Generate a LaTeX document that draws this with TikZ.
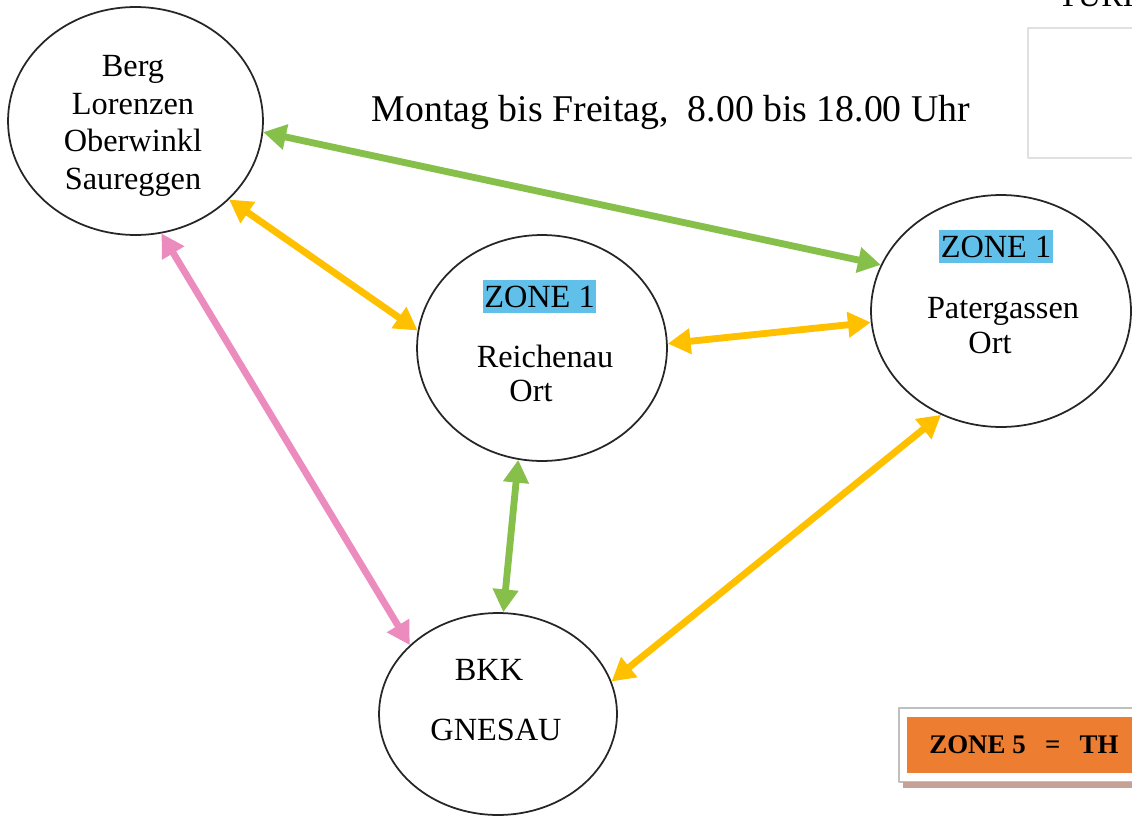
\documentclass[tikz,border=0pt]{standalone}
\usepackage{fontspec}
\setmainfont{Liberation Serif}
\usetikzlibrary{arrows.meta,shapes.geometric}
\definecolor{gruen}{RGB}{134,192,74}
\definecolor{gelb}{RGB}{255,192,0}
\definecolor{rosa}{RGB}{236,140,190}
\definecolor{hellblau}{RGB}{96,192,234}
\definecolor{zonenorange}{RGB}{237,125,49}
\definecolor{schatten}{RGB}{198,162,150}
\begin{document}
\begin{tikzpicture}[x=0.02cm, y=-0.02cm, line join=round,
	ort/.style={draw=black!85, line width=1pt, ellipse, inner sep=0pt},
	verb/.style={line width=3.9pt, {Triangle[length=13pt,width=14pt]}-{Triangle[length=13pt,width=14pt]}},
	schrift/.style={font=\fontsize{18.4}{21.5}\selectfont, align=center},
	zonebox/.style={schrift, fill=hellblau, inner xsep=1pt, inner ysep=3.4pt}]
	\useasboundingbox (0,0) rectangle (1132,821);
	% Orte
	\node[ort, minimum width=5.1cm, minimum height=4.56cm] (berg) at (135.5,121) {};
	\node[ort, minimum width=5.0cm, minimum height=4.52cm] (rei) at (542,348) {};
	\node[ort, minimum width=5.2cm, minimum height=4.64cm] (pat) at (1001,311) {};
	\node[ort, minimum width=4.76cm, minimum height=4.04cm] (bkk) at (498,714) {};
	\node[schrift] (bergtxt) at (133,126) {Berg\\Lorenzen\\Oberwinkl\\Saureggen};
	\node[zonebox] (reizone) at (539.5,296.5) {ZONE 1};
	\node[schrift, anchor=base] (reitxt) at (545,367) {Reichenau};
	\node[schrift, anchor=base] (reiort) at (531,401) {Ort};
	\node[zonebox] (patzone) at (996,246.5) {ZONE 1};
	\node[schrift, anchor=base] (pattxt) at (1003,318) {Patergassen};
	\node[schrift, anchor=base] (patort) at (990,353) {Ort};
	\node[schrift, anchor=base] (bkktxt) at (489,680) {BKK};
	\node[schrift, anchor=base] (gnesau) at (496,740) {GNESAU};
	\node[font=\fontsize{21.5}{25}\selectfont, anchor=base] (zeit) at (671,121) {Montag bis Freitag, \ 8.00 bis 18.00 Uhr};
	% Verbindungen
	\draw[verb, gruen] (berg.-5) -- (pat.159);
	\draw[verb, gelb] (berg.-40) -- (rei.172);
	\draw[verb, rosa] (berg.-77) -- (bkk.142);
	\draw[verb, gelb] (rei.2) -- (pat.185);
	\draw[verb, gruen] (rei.-102) -- (bkk.87);
	\draw[verb, gelb] (pat.240) -- (bkk.16);
	% Rand rechts
	\draw[black!12, line width=0.8pt] (1140,28) -- (1028,28) -- (1028,158) -- (1140,158);
	\node[schrift, anchor=base west] (turr) at (1052,7) {TURR};
	\draw[black!25, fill=white, line width=0.6pt] (899,708) rectangle (1140,782);
	\fill[schatten] (903,782) rectangle (1140,788);
	\fill[zonenorange] (907,717) rectangle (1140,773);
	\node[font=\bfseries\fontsize{15.3}{18}\selectfont, anchor=west, inner sep=0pt] (zone5) at (929,745) {ZONE 5\hspace{11pt}=\hspace{11pt}TH};
\end{tikzpicture}
\end{document}
